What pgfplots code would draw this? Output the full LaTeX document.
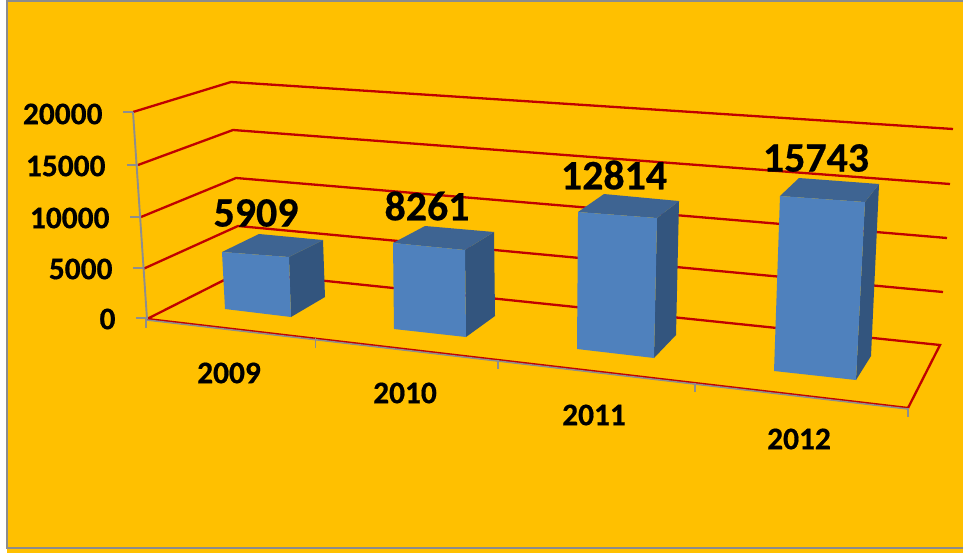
\documentclass[border=0pt]{standalone}
\usepackage{pgfplots}
\pgfplotsset{compat=1.18}
\usepackage{fontspec}
\setmainfont{Carlito}[BoldFeatures={FakeBold=0.5}]
\definecolor{bgor}{HTML}{FFC000}
\definecolor{frameg}{HTML}{8C8C8C}
\definecolor{gridr}{HTML}{C00000}
\definecolor{axg}{HTML}{8E8E8E}
\definecolor{fr}{HTML}{4F81BD}
\definecolor{tp}{HTML}{3E6492}
\definecolor{sd}{HTML}{33557E}
% each vertical edge: foot (xf,yf) on the floor, and the point (xs,ys) it would reach at 20000; v = value
\newcommand{\face}[2]{\addplot[fill=#1,draw=none,forget plot] table[row sep=\\,
    x expr=\thisrow{xf}+(\thisrow{xs}-\thisrow{xf})*\thisrow{v}/20000,
    y expr=\thisrow{yf}+(\thisrow{ys}-\thisrow{yf})*\thisrow{v}/20000]
    {xf yf xs ys v\\ #2} --cycle;}
\newcommand{\grid}[1]{\addplot[gridr,line width=2.3bp,forget plot,line join=miter] coordinates {#1};}
\newcommand{\gr}[1]{\addplot[axg,line width=1.9bp,forget plot] coordinates {#1};}
\begin{document}
\begin{tikzpicture}[x=1bp,y=1bp]
\begin{axis}[
  scale only axis,width=963bp,height=554bp,
  xmin=0,xmax=963,ymin=0,ymax=554,y dir=reverse,
  hide axis,clip=true
]
% background and frame
\addplot[fill=white,draw=none,forget plot] coordinates {(0,0)(963,0)(963,554)(0,554)} --cycle;
\addplot[fill=bgor,draw=none,forget plot] coordinates {(7,1)(963,1)(963,553)(7,553)} --cycle;
\addplot[frameg,line width=2.8bp,forget plot] coordinates {(963,1)(7,1)(7,548)(963,548)};
% walls: gridlines at 20000, 15000, 10000, 5000, 0
\grid{(133,112)(231,82)(953,129)}
\grid{(138,165)(233,130)(950,184)}
\grid{(141,217)(236,178)(947,238)}
\grid{(143,269)(238,226)(943,292)}
\grid{(147,319)(240,272)(940,345)(908,408)(147,319)}
% value axis and ticks
\gr{(133,112)(147,319)}
\gr{(123,112)(133,112)}
\gr{(127,165)(138,165)}
\gr{(130,217)(141,217)}
\gr{(133,268)(143,268)}
\gr{(136,318)(147,318)}
% category axis and ticks
\addplot[axg,line width=1.5bp,forget plot] coordinates {(147,320)(908,409)};
\gr{(146,319)(146,328)}
\gr{(315.5,338)(315.5,348)}
\gr{(498,360)(498,369)}
\gr{(695,383)(695,392)}
\gr{(908,408)(908,417)}
% 2009
\face{sd}{291 317 284.2 113.9 5909\\ 325 297 318.2 104.1 5909\\ 325 297 318.2 104.1 0\\ 291 317 284.2 113.9 0\\}
\face{tp}{225 309 214.8 116.1 5909\\ 261 288 254.2 105.2 5909\\ 325 297 318.2 104.1 5909\\ 291 317 284.2 113.9 5909\\}
\face{fr}{225 309 214.8 116.1 5909\\ 291 317 284.2 113.9 5909\\ 291 317 284.2 113.9 0\\ 225 309 214.8 116.1 0\\}
% 2010
\face{sd}{466 337 463.6 126.4 8261\\ 495 316 492.6 112.6 8261\\ 495 316 492.6 112.6 0\\ 466 337 463.6 126.4 0\\}
\face{tp}{394 329 391.6 120.8 8261\\ 426 307 423.6 110.9 8261\\ 495 316 492.6 112.6 8261\\ 466 337 463.6 126.4 8261\\}
\face{fr}{394 329 391.6 120.8 8261\\ 466 337 463.6 126.4 8261\\ 466 337 463.6 126.4 0\\ 394 329 391.6 120.8 0\\}
% 2011
\face{sd}{654 358 658.7 139.5 12814\\ 676 335 680.7 125.9 12814\\ 676 335 680.7 125.9 0\\ 654 358 658.7 139.5 0\\}
\face{tp}{577 349 578.6 135.2 12814\\ 602 326 605.1 120 12814\\ 676 335 680.7 125.9 12814\\ 654 358 658.7 139.5 12814\\}
\face{fr}{577 349 578.6 135.2 12814\\ 654 358 658.7 139.5 12814\\ 654 358 658.7 139.5 0\\ 577 349 578.6 135.2 0\\}
% 2012
\face{sd}{856 380 867.4 153.9 15743\\ 871 356 881.2 137.5 15743\\ 871 356 881.2 137.5 0\\ 856 380 867.4 153.9 0\\}
\face{tp}{774 371 781.6 148.7 15743\\ 793 350 800.6 131.5 15743\\ 871 356 881.2 137.5 15743\\ 856 380 867.4 153.9 15743\\}
\face{fr}{774 371 781.6 148.7 15743\\ 856 380 867.4 153.9 15743\\ 856 380 867.4 153.9 0\\ 774 371 781.6 148.7 0\\}
% value labels
\node[font=\fontsize{42}{42}\selectfont\bfseries] at (axis cs:256,213) {5909};
\node[font=\fontsize{42}{42}\selectfont\bfseries] at (axis cs:427,206) {8261};
\node[font=\fontsize{42}{42}\selectfont\bfseries] at (axis cs:614,175) {12814};
\node[font=\fontsize{42}{42}\selectfont\bfseries] at (axis cs:816,158) {15743};
% value axis labels
\node[anchor=east,font=\fontsize{31.5}{32}\selectfont\bfseries] at (axis cs:106,114) {20000};
\node[anchor=east,font=\fontsize{31.5}{32}\selectfont\bfseries] at (axis cs:109,166) {15000};
\node[anchor=east,font=\fontsize{31.5}{32}\selectfont\bfseries] at (axis cs:113,218) {10000};
\node[anchor=east,font=\fontsize{31.5}{32}\selectfont\bfseries] at (axis cs:116,269) {5000};
\node[anchor=east,font=\fontsize{31.5}{32}\selectfont\bfseries] at (axis cs:119,319) {0};
% category labels
\node[font=\fontsize{31.5}{32}\selectfont\bfseries] at (axis cs:229,373) {2009};
\node[font=\fontsize{31.5}{32}\selectfont\bfseries] at (axis cs:405,393) {2010};
\node[font=\fontsize{31.5}{32}\selectfont\bfseries] at (axis cs:594,415) {2011};
\node[font=\fontsize{31.5}{32}\selectfont\bfseries] at (axis cs:799,439) {2012};
\end{axis}
\end{tikzpicture}
\end{document}
